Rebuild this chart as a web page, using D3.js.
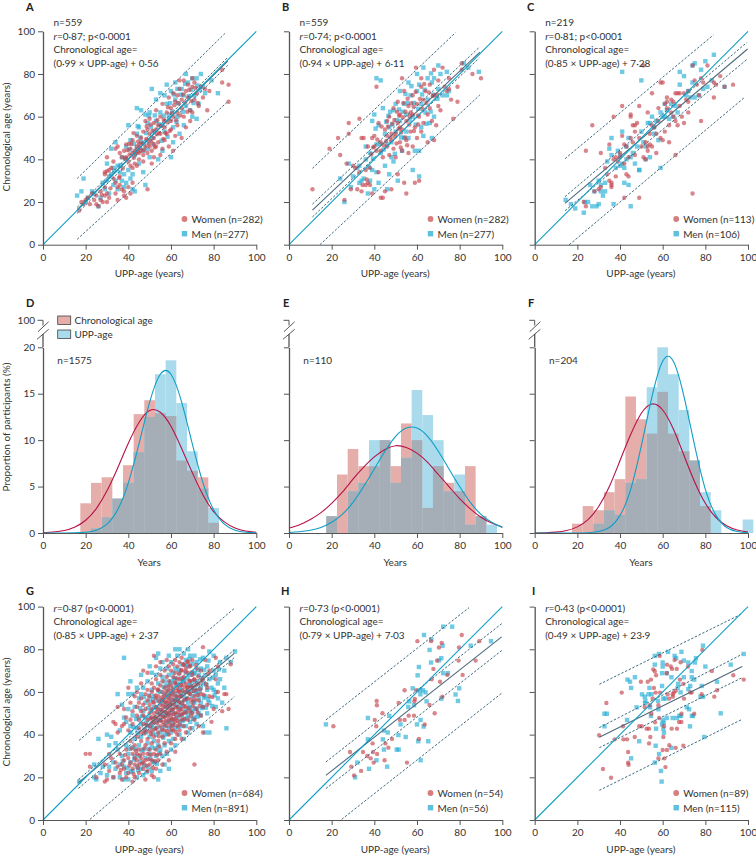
<!DOCTYPE html>
<html>
<head>
<meta charset="utf-8">
<script src="https://cdn.jsdelivr.net/npm/d3@7"></script>
<style>
  body { margin: 0; background: #fff; }
  svg { display: block; }
  text { font-family: Lato, "Open Sans", sans-serif; fill: #333; font-size: 10px; }
  .panelLetter { font-weight: 700; font-size: 11px; fill: #222; }
  .domain, .tick line { stroke: #555; }
</style>
</head>
<body>
<svg id="chart" width="756" height="856"></svg>
<script>
// values: [UPP-age, chronological age]
const aWomen = [[17,16],[18,20],[19,19],[20,21],[21,22],[22,19],[23,24],[24,21],[25,23],[25,19],[26,18],[27,21],[27,25],[28,20],[29,27],[29,23],[30,24],[30,20],[31,22],[29,33],[29,34],[30,34.5],[31,35],[32,36],[30,41],[33,39],[34,29],[34,24],[35,21],[35,27],[33,31],[36,28],[36,32],[37,26],[38,25],[38,23],[39,22],[40,27],[41,24],[42,29],[49,26],[34,45],[35,46],[36,43],[37,41],[38,44],[39,47],[39,41],[40,39],[41,37],[42,36],[43,38],[44,37],[45,40],[41,45],[42,43],[42,49],[43,44],[44,46],[44,51],[45,47],[45,43],[46,44],[46,50],[47,42],[47,53],[47,39],[48,58],[48,46],[49,43],[49,49],[49,54],[50,59],[50,52],[50,46],[51,38],[51,44],[52,57],[52,50],[52,41],[53,46],[53,54],[53,63],[54,48],[54,56],[55,42],[55,52],[55,60],[56,66],[56,45],[57,49],[57,55],[57,58],[58,52],[58,62],[59,69],[59,46],[60,54],[60,58],[60,64],[61,71],[61,44],[61,60],[62,51],[62,67],[63,62],[63,56],[63,70],[64,77],[64,73],[65,64],[65,50],[65,68],[66,77],[66,60],[67,72],[67,55],[68,69],[68,75],[69,58],[69,63],[70,78],[70,74],[70,62],[71,68],[71,76],[72,71],[73,65],[74,74],[75,69],[76,73],[77,63],[78,72],[84,82],[84,76],[87,75],[87,67],[38.5,40.4],[40.6,42.3],[41.4,47.2],[42.6,40.7],[43.4,42.6],[44.4,43.7],[45.6,45.3],[46.4,47.6],[47.4,44.4],[48.4,49.6],[48.6,55.4],[49.6,47.3],[50.4,56.3],[50.6,48.6],[51.3,53.4],[51.6,47.3],[52.4,45.6],[53.4,51.7],[53.6,58.3],[54.4,52.4],[55.4,55.6],[56.4,49.6],[56.6,58.6],[57.4,52.4],[58.4,57.3],[58.6,64.4],[59.4,53.3],[60.4,61.6],[61.6,65.4],[62.4,58.3],[63.6,66.3],[64.4,60.6],[65.6,70.4],[66.6,66.7],[67.6,62.3],[68.6,72.6],[69.6,67.3],[71.4,73.4],[72.6,66.4],[44.6,48.4],[42.4,52.3],[40.4,47.3],[39.6,44.3],[37.4,35.7],[35.7,31.3],[31.6,26.4],[27.6,23.4]];
const aMen = [[16,23],[18,25],[19,31],[20,20],[21,22],[23,25],[24,24],[26,18],[27,22],[28,29],[29,26],[30,38],[30,30],[31,32],[31,24],[32,45],[32,33],[33,28],[33,36],[34,48],[34,30],[35,37],[35,26],[36,34],[37,30],[37,41],[38,33],[38,27],[39,46],[39,29],[40,56],[40,35],[41,49],[41,31],[42,26],[42,33],[43,25],[43,42],[44,64],[44,52],[45,55],[46,48],[46,63],[47,44],[47,34],[48,28],[48,61],[49,57],[50,62],[50,41],[51,73],[51,50],[52,47],[53,68],[53,58],[54,40],[55,71],[55,62],[56,44],[57,70],[57,53],[58,75],[58,66],[59,61],[60,41],[60,72],[61,55],[61,48],[62,76],[62,68],[63,60],[64,52],[65,73],[66,56],[66,70],[67,80],[67,65],[68,76],[69,63],[70,78],[70,60],[71,70],[72,59],[72,78],[73,66],[74,80],[75,74],[76,71],[82,71],[79,77],[63,73],[59,59],[56,56],[52,53],[49,45],[45,38],[44,45],[33.4,34.6],[36.4,37.3],[38.6,40.4],[40.4,44.6],[42.6,47.3],[44.4,55.6],[45.6,50.3],[47.4,47.6],[48.4,52.3],[49.6,60.4],[50.6,55.3],[52.4,60.6],[54.4,56.4],[55.6,48.7],[56.6,60.4],[58.4,50.6],[59.6,66.3],[60.6,62.4],[61.4,70.4],[62.6,57.6],[63.4,66.3],[64.6,70.3],[65.6,62.3],[66.6,75.4],[68.4,69.6],[69.4,72.6],[70.6,66.4],[72.4,74.6],[73.6,72.4]];

const bWomen = [[11,26],[19,45],[23,50],[24,42],[28,57],[28,52],[26,21],[27,38],[29,26],[30,37],[31,36],[32,26],[33,34],[33,59],[34,50],[34,25],[34.5,28],[35,50],[36,35],[36,28],[37,29],[37,46],[38,36],[38,28],[39,24],[39,50],[40,46],[41,44],[41,74],[42,34],[42,57],[43,22],[43,48],[44,41],[44,22],[45,25],[45,54],[46,51],[46,46],[47,60],[47,42],[48,26],[48,49],[49,64],[49,45],[50,52],[50,41],[51,67],[51,33],[51,57],[52,48],[52,61],[53,78],[53,54],[53,44],[54,29],[54,72],[55,58],[55,49],[55,24],[56,65],[56,43],[57,62],[57,53],[58,70],[58,46],[59,55],[59,29],[59.5,83],[60,66],[60,50],[61,60],[61,30],[62,78],[62,74],[62,53],[63,68],[63,57],[64,72],[65,61],[65,48],[66,75],[66,64],[67,58],[68,82],[68,70],[68,49],[69,56],[70,77],[70,65],[71,63],[72,83],[73,74],[74,72],[75,78],[76,68],[79,74],[79,67],[77,59],[81,85],[81,82],[86,80],[90,78],[75,73],[58,61],[52,55],[48,52],[46,58],[43,44],[40,51],[44.4,46.6],[45.6,48.6],[46.4,55.4],[47.6,50.3],[48.4,56.7],[49.4,58.4],[49.6,50.6],[50.4,47.4],[50.6,62.3],[51.4,54.3],[51.6,60.4],[52.4,45.6],[52.6,52.6],[53.4,59.7],[53.6,66.4],[54.4,50.3],[54.6,62.3],[55.4,46.6],[55.6,68.4],[56.4,56.3],[56.6,60.3],[57.4,66.3],[58.4,64.6],[58.6,53.3],[59.4,71.6],[60.4,60.6],[60.6,56.3],[61.4,68.3],[62.6,63.6],[63.4,75.3],[64.4,66.4],[65.6,71.3],[67.4,69.6],[69.4,70.3],[43.4,55.4],[41.4,49.3],[39.4,45.6],[38.6,42.4],[36.4,30.6]];
const bMen = [[24,31],[26,20],[28,38],[29,27],[30,32],[32,36],[33,29],[33,37],[34,30],[35,31],[36,40],[36,46],[37,24],[38,30],[38,43],[39,58],[39,35],[40,26],[40,61],[41,34],[41,47],[41,78],[43,77],[42,56],[42,29],[43,43],[44,64],[45,52],[45,37],[46,26],[46,47],[47,33],[47,55],[48,41],[49,39],[49,63],[50,66],[50,53],[51,30],[52,58],[52,72],[53,44],[54,66],[55,61],[55,53],[56,76],[56,50],[57,70],[58,60],[58,35],[59,44],[60,80],[60,72],[61,44],[61,32],[62,66],[62,55],[63,83],[63,51],[64,62],[65,78],[65,68],[66,57],[67,76],[67,50],[68,78],[68,60],[70,73],[70,84],[71,80],[72,70],[74,81],[74,70],[75,72],[82,85],[84,83],[89,81],[61,75],[54,50],[48,48],[37.4,36.4],[39.4,40.3],[40.6,54.4],[42.6,47.3],[44.4,44.6],[45.6,57.6],[46.6,60.4],[47.4,62.3],[48.4,56.3],[49.6,42.6],[50.4,58.3],[51.6,63.4],[52.6,50.3],[53.4,62.3],[54.6,70.6],[55.6,66.3],[56.6,58.6],[57.4,74.3],[58.6,66.4],[59.4,56.3],[60.6,63.7],[62.4,70.4],[63.6,72.6],[64.4,56.7],[66.4,62.4],[66.6,80.3],[67.6,70.3],[69.6,68.4]];

const cWomen = [[23,20],[24,18],[24,44],[27,56],[28,25],[30,26],[31,27],[31,43],[33,36],[34,33],[35,30],[36,29],[36,28],[36,27],[37,40],[38,32],[38,41],[37,60],[35,47],[39,39],[40,43],[41,65],[41,51],[42,22],[42,38],[42,47],[43,33],[43,46],[44,41],[44,32],[45,60],[45,61],[45,50],[46,48],[46,56],[47,42],[47,56],[48,57],[49,22],[49,65],[49,50],[50,46],[51,41],[51,84],[52,40],[52,48],[53,46],[53,44],[53,62],[54,52],[55,46],[55,56],[55,71],[56,55],[57,43],[57,52],[58,64],[59,50],[59,76],[60,49],[60,76],[61,53],[61,66],[62,69],[62,64],[63,56],[63,48],[64,68],[64,62],[65,67],[65,60],[66,71],[66,42],[67,71],[67,56],[68,65],[68,71],[69,60],[70,71],[71,68],[72,67],[72,62],[74,84],[74,24],[75,77],[76,75],[77,70],[78,78],[78,58],[79,76],[81,84],[84,76],[85,75],[87,79],[89,74],[93,75],[84,69],[72,72],[70,57],[66,58],[62,67],[58,58],[54,47],[47,53],[40,41]];
const cMen = [[14.5,21],[17,19],[19,17],[23,15],[23.5,20],[25,20],[27,18],[29,18],[30,19],[26,28],[28,25],[30,30],[31,28],[31,25],[32,23],[33,25],[33,29],[34,39],[35,45],[36,50],[36,42],[37,19],[38,36],[39,44],[40,37],[40,42],[41,38],[41,53],[41,81],[42,29],[42,36],[43,40],[43,46],[44,28],[44,50],[45,18],[45,41],[46,43],[47,38],[48,46],[49,35],[49,35],[50,53],[50,77],[51,48],[52,46],[52,40],[53,57],[54,41],[54,57],[55,60],[56,55],[56,52],[57,58],[58,49],[59,36],[59,62],[60,60],[61,66],[61,60],[62,63],[63,59],[64,66],[65,60],[66,65],[67,62],[68,81],[68,75],[70,79],[71,70],[72,72],[73,69],[74,76],[74,84],[75,85],[77,70],[78,82],[79,73],[80,86],[81,74],[83,77],[84,89],[89,74],[75,69]];

const gWomen = [[20,31],[22,31],[22,25],[25,20],[29,18],[29,26],[30,19],[31,23],[31,31],[32,29],[33,20],[33,46],[34,45],[34,27],[35,25],[35,53],[35,41],[36,22],[36,31],[37,26],[37,44],[37,19],[38,28],[38,24],[38,45],[38,52],[39,20],[39,33],[39,48],[40,62],[40,22],[40,29],[40,42],[41,27],[41,37],[41,47],[41,55],[42,18],[42,24],[42,31],[42,45],[42,51],[43,20],[43,29],[43,26],[43,35],[43,58],[44,28],[44,31],[44,39],[44,49],[44,53],[44,60],[45,22],[45,26],[45,33],[45,43],[45,47],[45,55],[46,29],[46,37],[46,41],[46,51],[46,57],[46,64],[47,27],[47,24],[47,31],[47,45],[47,49],[47,54],[47,70],[48,19],[48,28],[48,35],[48,42],[48,52],[48,59],[49,23],[49,31],[49,38],[49,47],[49,56],[49,61],[49,69],[50,26],[50,33],[50,44],[50,50],[50,54],[50,58],[51,21],[51,28],[51,36],[51,42],[51,48],[51,52],[51,60],[51,64],[52,20],[52,31],[52,39],[52,46],[52,50],[52,55],[52,62],[52,77],[53,24],[53,33],[53,43],[53,48],[53,53],[53,57],[53,66],[53,72],[54,28],[54,37],[54,41],[54,47],[54,52],[54,58],[54,61],[55,31],[55,44],[55,49],[55,54],[55,63],[55,68],[55,74],[56,26],[56,39],[56,46],[56,51],[56,56],[56,60],[56,65],[57,36],[57,42],[57,48],[57,53],[57,57],[57,62],[57,70],[58,32],[58,44],[58,50],[58,55],[58,59],[58,67],[58,75],[59,28],[59,40],[59,47],[59,52],[59,56],[59,61],[59,65],[59,72],[60,36],[60,44],[60,49],[60,54],[60,58],[60,63],[60,70],[61,42],[61,47],[61,52],[61,60],[61,67],[61,73],[62,32],[62,38],[62,46],[62,50],[62,56],[62,64],[62,69],[62,75],[63,40],[63,44],[63,53],[63,58],[63,62],[63,72],[64,42],[64,49],[64,55],[64,60],[64,66],[64,74],[65,38],[65,47],[65,52],[65,58],[65,63],[65,70],[65,76],[66,44],[66,50],[66,56],[66,67],[66,73],[67,41],[67,53],[67,60],[67,64],[67,71],[68,47],[68,57],[68,62],[68,69],[68,74],[69,43],[69,51],[69,59],[69,65],[69,72],[70,50],[70,55],[70,62],[70,68],[70,75],[71,26],[71,47],[71,58],[71,66],[72,52],[72,61],[72,71],[73,44],[73,56],[73,64],[74,49],[74,59],[74,70],[75,81],[75,41],[75,53],[75,66],[76,75],[77,54],[77,62],[78,58],[78,70],[79,46],[80,52],[81,66],[81,76],[82,72],[84,51],[85,59],[86,59],[87,52],[88,73],[82,60],[36.5,23.5],[38.5,30.5],[40.5,25.5],[41.5,33.5],[42.5,21.5],[43.5,32.5],[44.5,24.5],[45.5,30.5],[46.5,26.5],[47.5,33.5],[48.5,25.5],[49.5,28.5],[50.5,30.5],[51.5,24.5],[52.5,27.5],[53.5,30.5],[54.5,34.5],[47.5,40.5],[48.5,44.5],[49.5,41.5],[50.5,47.5],[50.7,40.3],[51.3,45.6],[51.6,55.3],[52.4,48.2],[52.7,42.6],[52.8,58.4],[53.3,50.7],[53.6,45.4],[53.7,61.2],[54.3,39.2],[54.4,55.7],[54.8,49.6],[55.2,46.7],[55.4,51.8],[55.6,57.4],[55.8,42.3],[56.2,53.6],[56.3,48.4],[56.7,44.6],[56.8,58.3],[57.2,50.8],[57.3,55.4],[57.6,46.3],[57.8,60.4],[58.2,41.6],[58.3,48.7],[58.4,53.2],[58.7,57.3],[58.8,62.7],[59.2,45.4],[59.3,50.3],[59.6,54.4],[59.8,59.2],[60.2,42.3],[60.3,47.4],[60.4,51.6],[60.7,56.2],[60.8,61.3],[61.2,44.6],[61.3,49.7],[61.4,54.3],[61.7,58.2],[61.8,64.5],[62.2,41.3],[62.3,47.8],[62.4,52.7],[62.7,60.6],[62.8,66.3],[63.2,46.4],[63.3,50.6],[63.6,55.7],[63.7,60.3],[63.8,68.4],[64.2,44.7],[64.3,51.5],[64.4,57.8],[64.7,63.4],[64.8,70.3],[65.2,49.6],[65.3,54.6],[65.6,60.7],[65.7,66.4],[65.8,72.6],[66.2,47.3],[66.3,53.4],[66.6,62.4],[66.7,69.6],[67.2,50.5],[67.3,56.7],[67.6,62.3],[67.7,74.3],[68.2,52.4],[68.4,59.6],[68.7,65.3],[68.8,72.4],[69.3,48.6],[69.5,56.4],[69.7,62.7],[69.8,69.3],[70.4,53.3],[70.6,60.4],[70.8,65.7],[71.3,56.3],[71.6,63.3],[71.8,72.6],[72.5,50.4],[72.7,58.6],[72.8,67.3],[73.4,53.5],[73.7,61.3],[74.4,65.4],[75.3,58.7],[76.5,63.6],[77.5,68.5],[79.4,57.6]];
const gMen = [[17,18],[24,26],[24,20],[25,19],[26,38],[27,22],[28,25],[30,40],[30,21],[31,25],[31,35],[32,39],[33,20],[33,27],[34,36],[34,24],[35,59],[35,33],[36,20],[36,26],[36,42],[37,30],[37,54],[38,76],[38,19],[38,25],[38,48],[39,35],[39,22],[39,46],[40,59],[40,31],[40,19],[40,52],[41,27],[41,41],[41,44],[41,65],[42,23],[42,34],[42,49],[42,59],[43,30],[43,38],[43,53],[44,20],[44,25],[44,43],[44,62],[45,35],[45,48],[45,57],[45,30],[46,24],[46,39],[46,45],[46,59],[46,68],[47,21],[47,33],[47,51],[47,62],[48,29],[48,41],[48,48],[48,55],[49,25],[49,36],[49,44],[49,65],[50,31],[50,39],[50,48],[50,56],[50,72],[51,23],[51,34],[51,45],[51,61],[51,69],[52,27],[52,37],[52,43],[52,53],[52,58],[53,30],[53,40],[53,46],[53,68],[53,76],[54,19],[54,35],[54,50],[54,56],[54,64],[54,78],[55,23],[55,33],[55,41],[55,47],[55,60],[55,71],[56,30],[56,43],[56,55],[56,67],[56,74],[57,26],[57,35],[57,40],[57,50],[57,59],[57,65],[58,31],[58,46],[58,53],[58,63],[58,71],[59,24],[59,37],[59,43],[59,50],[59,58],[59,68],[59,77],[60,33],[60,41],[60,47],[60,56],[60,65],[60,74],[61,38],[61,45],[61,50],[61,62],[61,69],[62,35],[62,43],[62,54],[62,59],[62,66],[62,71],[62,80],[63,48],[63,56],[63,64],[63,77],[64,40],[64,46],[64,53],[64,62],[64,69],[64,80],[65,44],[65,49],[65,55],[65,61],[65,73],[66,38],[66,47],[66,59],[66,65],[66,78],[67,44],[67,51],[67,57],[67,69],[67,75],[68,41],[68,49],[68,55],[68,60],[68,72],[68,80],[69,46],[69,53],[69,63],[69,68],[69,77],[70,43],[70,51],[70,58],[70,65],[70,73],[71,48],[71,55],[71,62],[71,69],[71,77],[72,45],[72,52],[72,59],[72,65],[72,74],[73,50],[73,57],[73,68],[74,49],[74,55],[74,62],[74,71],[75,44],[75,53],[75,64],[75,76],[76,41],[76,58],[76,68],[77,50],[77,61],[77,72],[78,41],[78,55],[78,66],[78,79],[79,62],[80,70],[80,77],[81,53],[81,60],[81,68],[82,57],[82,64],[83,74],[83,66],[84,55],[85,70],[86,43],[86,76],[88,74],[90,79],[85,62],[80,61],[37.4,27.6],[39.6,24.3],[40.6,33.4],[41.3,22.6],[42.7,28.3],[43.4,33.2],[44.6,23.4],[45.7,27.3],[46.3,32.6],[47.4,25.7],[48.6,22.4],[49.4,33.3],[50.3,28.7],[51.7,27.4],[52.6,33.6],[53.4,26.3],[54.6,31.4],[42.4,43.6],[43.6,47.3],[44.4,40.6],[45.6,52.4],[46.6,48.7],[47.6,42.4],[47.3,57.6],[48.3,45.6],[49.3,52.4],[49.7,58.3],[50.4,43.7],[50.6,51.3],[51.4,40.7],[51.7,56.6],[52.3,47.4],[53.2,52.6],[53.7,43.4],[54.2,60.4],[54.7,46.6],[55.3,51.4],[55.7,56.3],[56.4,38.6],[56.6,48.6],[56.7,62.4],[57.3,44.3],[57.7,54.6],[58.4,40.4],[58.6,49.3],[58.7,60.6],[59.4,46.3],[59.6,53.7],[59.7,64.3],[60.4,44.2],[60.6,51.7],[60.7,59.4],[61.4,47.3],[61.6,56.3],[61.7,66.6],[62.4,49.6],[62.6,57.4],[62.7,63.3],[63.4,43.7],[63.6,52.3],[63.7,70.4],[64.4,49.3],[64.6,58.6],[64.7,66.3],[65.4,46.4],[65.6,53.3],[65.7,64.6],[66.4,50.6],[66.6,56.4],[66.7,72.7],[67.4,47.6],[67.6,60.3],[67.7,66.3],[68.4,52.6],[68.6,63.3],[68.7,75.4],[69.4,50.3],[69.6,60.6],[70.4,47.4],[70.6,55.6],[70.7,68.6],[71.4,52.3],[71.6,60.3],[72.4,48.4],[72.6,63.6],[72.7,70.3],[73.4,60.4],[73.6,75.3],[74.4,52.4],[74.6,66.6],[75.4,57.3],[75.6,70.4],[76.4,52.6],[76.6,63.4],[77.4,56.4],[77.6,74.7],[79.3,53.4],[79.6,66.7],[80.4,58.4],[82.4,70.6]];

const hWomen = [[20.8,43.9],[60.2,83.8],[71.6,83],[70.3,80.8],[81,86.7],[89.2,83.8],[79.7,80.8],[66.6,83.8],[69.4,74.7],[79.5,74.7],[87.5,74.7],[67.7,70.8],[74.2,68],[81.4,68],[66.9,65.9],[70.8,64.8],[54.2,60.8],[59.7,60.8],[41.1,55.8],[41.2,53.8],[51.4,54.8],[59,56.7],[58.8,55.6],[65.9,53.9],[71.9,57.8],[68.3,50],[43.8,50],[40.2,46.9],[40.9,43.9],[52,46.9],[54.2,46.9],[56.1,48.9],[58.6,48.9],[63.6,44.8],[48.3,38],[60.9,38],[39.2,35.9],[45.2,35.9],[46.6,33.9],[28.6,31.9],[34.7,31.9],[39.4,31.9],[41.3,30.9],[36.7,30],[38.3,28.9],[39.7,26.9],[44.8,28],[55.3,26.9],[29.2,25],[33.8,23],[30.5,20.9]];
const hMen = [[17.3,44.8],[37,47.8],[47,48.8],[44.5,41.9],[46.3,41],[37,37.8],[44,37.8],[44.5,33],[50.5,33],[51.4,33],[51.3,39.8],[54.7,38.9],[52.3,44.8],[41,28],[32,26.9],[37.5,24],[46,25],[31,20],[61.7,28],[60.6,36.9],[65.3,36.9],[63.1,43.8],[60,44.8],[61.7,46.9],[56.4,55.6],[55.9,53],[58.6,53.8],[58,61.7],[61.4,60.8],[62.8,60.8],[64,59.8],[61.6,58.9],[64.5,55.6],[71.4,56.9],[79.2,55.8],[78.1,58.8],[79.8,61.7],[60.3,67.8],[60.9,71.7],[66.6,73.8],[70.3,74.8],[71.4,75.8],[72.3,68.8],[74.5,68.8],[65.9,79.7],[72,81.7],[85.2,81.7],[94.7,83.8],[63.3,86.7],[66.7,84.7],[72.3,90.6],[76.5,90.6]];

const iWomen = [[30.2,39.7],[32,23.9],[35.8,19.8],[33.6,54.8],[37.5,37.8],[40.8,59.7],[41.4,43.9],[41.6,37.8],[43.3,37.8],[43.8,31.9],[43.8,26.9],[44,25.9],[46.9,38.9],[49,43.9],[50.2,43.9],[49.8,64.8],[51.6,52.8],[52.5,42.8],[53,64.8],[53.9,53.8],[53.6,42.8],[54.2,38.9],[53.6,35.9],[54.5,65.8],[55.6,70.6],[56.3,69.7],[56.9,67.8],[55.9,61.9],[55.3,56.9],[54.7,49.8],[56.4,45.8],[56.7,59.7],[58,53.8],[58.3,47.8],[58,28.9],[58.8,59.7],[58.6,76.9],[60,32.8],[60.3,38.9],[60.6,43.9],[60.8,28.9],[61.3,24.8],[62,32.8],[62,72.8],[62.3,58.9],[61.9,68.8],[63.1,35],[63.1,56.9],[63.8,71.9],[64.4,70.8],[64.2,42.8],[64.7,58.9],[64.8,57.8],[65.2,59.7],[65.6,75],[66.1,33.8],[66.6,70.8],[66.7,42.8],[66.1,60.5],[67.7,45.9],[68.1,65.8],[68.4,73.9],[68.8,49.8],[68.8,45.9],[69.7,34.8],[69.7,63.8],[70,56.9],[71.9,71.9],[72.9,59.8],[74.8,49.8],[73.6,59.7],[78.3,58.9],[78.6,79.7],[83.1,69.8],[84.2,57.8],[85.5,60.8],[93.1,67.8],[98,65.8]];
const iMen = [[32.7,49.8],[33.8,49.8],[32.7,43.9],[43.3,46.9],[43.5,65.8],[44.7,64.8],[45.2,61.9],[47,66.9],[47.8,52.8],[49,36.9],[45.2,28.9],[50.3,58.9],[51.6,57.8],[51.9,55.9],[51.7,54.8],[53.4,58.9],[54.1,52.8],[54.5,48.8],[54.8,58.9],[53.8,61.9],[56.9,42.8],[56.7,34.8],[56.3,26.9],[58.3,30.9],[56.3,72.8],[56.3,76.9],[58.3,77.8],[60,73.8],[60,71.9],[59.7,68.8],[59.7,62.8],[57.8,55.8],[58,51.9],[60.3,56.9],[61.3,56.9],[60,46.9],[60.5,45.6],[59.7,44.8],[60.3,42.8],[60.6,40.9],[59.2,23],[59.5,18],[61.9,47.8],[61.9,68.8],[62.5,78.8],[64.1,33.8],[64.1,66.9],[65.6,76.9],[66.3,75.8],[64.7,47.8],[66.6,47.8],[67,61.9],[67.3,63.8],[67.8,48.8],[68.8,78.8],[68.6,48.8],[68.4,59.8],[69.9,74.7],[69.9,66.9],[71.3,52.8],[72.4,51.9],[72,73.8],[72,61.3],[72.9,62.8],[72.8,43.9],[73.7,48.8],[73.6,69.8],[73.6,66.9],[74.8,65.8],[75.1,73.8],[75.6,75.8],[74.2,48.8],[77.7,57.8],[79,57.8],[78.3,62.8],[79.5,38.9],[80,71.9],[78.9,81.7],[85.5,64.8],[87.2,50],[91.9,72.8],[98,77.8]];

// fit line, inner and outer dashed limits as [x1, y1, x2, y2] in axis units
const aFit = [16,16.4,86.6,86], aInner = [[16,17.5,86.6,87.8],[16,14.7,86.6,84]], aOuter = [[16,31,85.3,99],[16,2.5,86.6,67]];
const bFit = [11,16.2,89.5,90.2], bInner = [[11,19,89.2,92.5],[11,13,89.2,87.5]], bOuter = [[11,35.8,78.1,99.4],[14.5,0,89.5,70.2]];
const cFit = [14.2,19.4,99.8,91.7], cInner = [[14.2,22.5,99.4,94.7],[14.2,15.9,99.7,87]], cOuter = [[14.2,40.3,83.8,98.3],[16.2,0,98.6,69.2]];
const gFit = [16.6,17.5,89.7,78.1], gInner = [[16.6,19,89.7,79.7],[16.6,14.8,89.7,76.1]], gOuter = [[16.9,37.3,89.5,99],[22,0.3,89.7,57.7]];
const hFit = [17.3,20.9,99.7,85.8], hInner = [[17.3,27.2,99.7,92],[17.3,14.7,99.7,79.4]], hOuter = [[17.3,46.9,84.4,99.5],[24.7,0.3,99.7,59.4]];
const iFit = [30.3,38.8,97.3,71.9], iInner = [[30.3,43.3,97.3,77.7],[30.3,33.9,97.3,66.7]], iOuter = [[30.3,63.6,97.3,96.7],[30.3,13.9,97.3,47.2]];

// histograms: 5-year bins, centre value of each bin
const binCentres = [20,25,30,35,40,45,50,55,60,65,70,75,80,85,90,95,100];
const dChrono = [3.2,5.4,6,3.7,7.3,12.8,14.3,12.9,12.6,7.8,6.7,6,1.1,0,0,0,0];
const dUpp = [0.1,0.5,1.7,3.7,5.4,8.7,12.5,17.1,18.6,14,8.8,4.8,2.7,0,0,0,0];
const eChrono = [1.8,6.3,9.05,7.2,7.2,10,7.2,11.8,10,2.7,7.2,5.4,4.5,7.2,1.8,0,0];
const eUpp = [1.8,0,4.5,5.4,10,10,5.4,8.1,15.4,12.7,10,4.5,6.3,0.9,1.8,0.9,0];
const fChrono = [1,2.9,2.45,4.4,5.8,14.7,12.25,10.7,15.2,10.7,8.8,7.8,2.9,0,0,0,0];
const fUpp = [0,0,1,2.45,1.95,5.4,5.8,15.7,20,17.1,13.25,7.8,4.4,2.45,0,0,1.45];

// fitted curves read at every 5 years, from 0 to 100
const curveYears = [0,5,10,15,20,25,30,35,40,45,50,55,60,65,70,75,80,85,90,95,100];
const dChronoCurve = [0.03,0.1,0.26,0.64,1.37,2.63,4.54,7,9.66,11.9,13.2,13,11.5,9.1,6.5,4.1,2.3,1.2,0.54,0.22,0.08];
const dUppCurve = [0,0,0,0.02,0.08,0.3,0.96,2.5,5.4,9.6,14.1,17.1,17.1,14.1,9.6,5.4,2.5,0.96,0.3,0.08,0.02];
const eChronoCurve = [0.53,0.89,1.46,2.2,3.2,4.4,5.8,7.1,8.2,9,9.4,9.2,8.6,7.6,6.3,5,3.7,2.6,1.7,1.08,0.65];
const eUppCurve = [0.05,0.13,0.29,0.6,1.15,2,3.3,5,6.9,8.8,10.4,11.3,11.3,10.4,8.8,6.9,5,3.3,2,1.15,0.6];
const fChronoCurve = [0,0.03,0.09,0.26,0.66,1.44,2.85,5,7.8,10.6,12.9,13.9,13.25,11.2,8.35,5.5,3.2,1.67,0.78,0.32,0.11];
const fUppCurve = [0,0,0,0,0,0.02,0.16,0.6,1.9,4.7,9.4,14.7,18.5,18.5,14.7,9.4,4.7,1.9,0.6,0.16,0.03];

const axisTicks = [0,20,40,60,80,100];
const histTicks = [0,5,10,15,20];

const teal = "#0f9fc4", fitColour = "#4d6b7d", dashColour = "#3f6a80";
const redLine = "#b5124a", blueLine = "#0f9fc4";
const redBar = "#e5aeaa", blueBar = "#a9dbec", greyBar = "#a5adb6";
const womenColour = "#c4434f", menColour = "#23aed6";

const panelWidth = 213.3;
const columns = [43, 289, 534.7];
const svg = d3.select("#chart");

function addText(x, y, str, cls) {
  return svg.append("text").attr("x", x).attr("y", y).attr("class", cls || null).text(str);
}

function drawAxes(xScale, yScale, yTicks, showLabels) {
  const bottom = yScale.range()[0];
  const gx = svg.append("g").attr("transform", `translate(0,${bottom})`)
    .call(d3.axisBottom(xScale).tickValues(axisTicks).tickSize(5).tickSizeOuter(0).tickPadding(4));
  gx.selectAll("text").style("font-size", "10px");
  const gy = svg.append("g").attr("transform", `translate(${xScale.range()[0]},0)`)
    .call(d3.axisLeft(yScale).tickValues(yTicks).tickSize(5).tickSizeOuter(0).tickPadding(3)
      .tickFormat(showLabels ? d3.format("d") : ""));
  gy.selectAll("text").style("font-size", "10px");
  gy.select(".domain").attr("stroke-width", 1.3);
  gx.select(".domain").attr("stroke-width", 1);
}

function drawSegment(xScale, yScale, seg, colour, dash, width) {
  svg.append("line")
    .attr("x1", xScale(seg[0])).attr("y1", yScale(seg[1]))
    .attr("x2", xScale(seg[2])).attr("y2", yScale(seg[3]))
    .attr("stroke", colour).attr("stroke-width", width)
    .attr("stroke-dasharray", dash);
}

function richLine(x, y, parts) {
  const t = svg.append("text").attr("x", x).attr("y", y);
  parts.forEach(p => {
    t.append("tspan").style("font-style", p[1] ? "italic" : "normal").text(p[0]);
  });
}

function scatterPanel(opts) {
  const x = d3.scaleLinear().domain([0, 100]).range([opts.left, opts.left + panelWidth]);
  const y = d3.scaleLinear().domain([0, 100]).range([opts.bottom, opts.bottom - 213.4]);

  const g = svg.append("g");
  g.selectAll("rect").data(opts.men).enter().append("rect")
    .attr("x", d => x(d[0]) - 2.2).attr("y", d => y(d[1]) - 2.2)
    .attr("width", 4.4).attr("height", 4.4)
    .attr("fill", menColour).attr("fill-opacity", 0.65);
  g.selectAll("circle").data(opts.women).enter().append("circle")
    .attr("cx", d => x(d[0])).attr("cy", d => y(d[1])).attr("r", 2.2)
    .attr("fill", womenColour).attr("fill-opacity", 0.65);

  opts.outer.forEach(s => drawSegment(x, y, s, dashColour, "2.4,1.7", 1));
  opts.inner.forEach(s => drawSegment(x, y, s, dashColour, "2.4,1.7", 1));
  drawSegment(x, y, opts.fit, fitColour, null, 1.1);
  drawSegment(x, y, [0, 0, 100, 100], teal, null, 1.1);

  drawAxes(x, y, axisTicks, opts.showY);

  addText(opts.left + panelWidth / 2 - 0.5, opts.bottom + 32.5, "UPP-age (years)").attr("text-anchor", "middle");
  addText(opts.letterX, opts.letterY, opts.letter, "panelLetter");

  opts.lines.forEach((parts, i) => richLine(opts.left + 10.5, opts.textTop + i * opts.lineStep, parts));

  // legend
  const lx = opts.left + 141.5;
  svg.append("circle").attr("cx", lx).attr("cy", opts.legendY).attr("r", 2.9).attr("fill", "#d67d7e");
  svg.append("rect").attr("x", lx - 2.7).attr("y", opts.legendY + 12).attr("width", 5.4).attr("height", 5.4).attr("fill", "#5dc0de");
  addText(lx + 7, opts.legendY + 3.5, opts.legend[0]);
  addText(lx + 7, opts.legendY + 18.5, opts.legend[1]);
}

function histPanel(opts) {
  const x = d3.scaleLinear().domain([0, 100]).range([opts.left, opts.left + panelWidth]);
  const y = d3.scaleLinear().domain([0, 20]).range([533, 347.3]);
  const barW = x(5) - x(0);

  const layers = [
    { values: opts.chrono, fill: redBar },
    { values: opts.upp, fill: blueBar },
    { values: opts.chrono.map((v, i) => Math.min(v, opts.upp[i])), fill: greyBar },
  ];
  layers.forEach(layer => {
    svg.append("g").selectAll("rect").data(layer.values).enter().append("rect")
      .attr("x", (d, i) => x(binCentres[i]) - barW / 2).attr("width", barW)
      .attr("y", d => y(d)).attr("height", d => y(0) - y(d))
      .attr("fill", layer.fill);
  });

  const line = d3.line().x((d, i) => x(curveYears[i])).y(d => y(Math.max(d, 0))).curve(d3.curveNatural);
  svg.append("path").attr("d", line(opts.chronoCurve)).attr("fill", "none").attr("stroke", redLine).attr("stroke-width", 1.1);
  svg.append("path").attr("d", line(opts.uppCurve)).attr("fill", "none").attr("stroke", blueLine).attr("stroke-width", 1.1);

  drawAxes(x, y, histTicks, opts.showY);

  // broken y axis up to the 100 tick
  const l = opts.left;
  svg.append("path").attr("d", `M${l},347 V334`).attr("stroke", "#555").attr("stroke-width", 1.3).attr("fill", "none");
  svg.append("path").attr("d", `M${l - 5.5},320.3 H${l} V325.5`).attr("stroke", "#555").attr("stroke-width", 1).attr("fill", "none");
  svg.append("path").attr("d", `M${l - 6},339.3 L${l + 5.7},329.3 M${l - 5},331.7 L${l + 5.7},321.7`).attr("stroke", "#444").attr("stroke-width", 0.9).attr("fill", "none");
  if (opts.showY) addText(l - 8, 323.8, "100").attr("text-anchor", "end");

  addText(opts.left + panelWidth / 2 - 0.5, 566, "Years").attr("text-anchor", "middle");
  addText(opts.letterX, 307, opts.letter, "panelLetter");
  addText(opts.left + 14.3, 363.8, opts.n);
}

scatterPanel({ left: columns[0], bottom: 244.7, letter: "A", letterX: 26, letterY: 10.5, showY: true,
  women: aWomen, men: aMen, fit: aFit, inner: aInner, outer: aOuter, legendY: 219,
  legend: ["Women (n=282)", "Men (n=277)"], textTop: 26, lineStep: 13.7,
  lines: [[["n=559"]], [["r", 1], ["=0·87; p<0·0001"]], [["Chronological age="]], [["(0·99 × UPP-age) + 0·56"]]] });
scatterPanel({ left: columns[1], bottom: 244.7, letter: "B", letterX: 282, letterY: 10.5, showY: false,
  women: bWomen, men: bMen, fit: bFit, inner: bInner, outer: bOuter, legendY: 219,
  legend: ["Women (n=282)", "Men (n=277)"], textTop: 26, lineStep: 13.7,
  lines: [[["n=559"]], [["r", 1], ["=0·74; p<0·0001"]], [["Chronological age="]], [["(0·94 × UPP-age) + 6·11"]]] });
scatterPanel({ left: columns[2], bottom: 244.7, letter: "C", letterX: 527, letterY: 10.5, showY: false,
  women: cWomen, men: cMen, fit: cFit, inner: cInner, outer: cOuter, legendY: 219,
  legend: ["Women (n=113)", "Men (n=106)"], textTop: 26, lineStep: 13.7,
  lines: [[["n=219"]], [["r", 1], ["=0·81; p<0·0001"]], [["Chronological age="]], [["(0·85 × UPP-age) + 7·28"]]] });

histPanel({ left: columns[0], letter: "D", letterX: 26, showY: true, n: "n=1575",
  chrono: dChrono, upp: dUpp, chronoCurve: dChronoCurve, uppCurve: dUppCurve });
histPanel({ left: columns[1], letter: "E", letterX: 283, showY: false, n: "n=110",
  chrono: eChrono, upp: eUpp, chronoCurve: eChronoCurve, uppCurve: eUppCurve });
histPanel({ left: columns[2], letter: "F", letterX: 528, showY: false, n: "n=204",
  chrono: fChrono, upp: fUpp, chronoCurve: fChronoCurve, uppCurve: fUppCurve });

scatterPanel({ left: columns[0], bottom: 820, letter: "G", letterX: 26, letterY: 594.5, showY: true,
  women: gWomen, men: gMen, fit: gFit, inner: gInner, outer: gOuter, legendY: 793,
  legend: ["Women (n=684)", "Men (n=891)"], textTop: 611.7, lineStep: 13.6,
  lines: [[["r", 1], ["=0·87 (p<0·0001)"]], [["Chronological age="]], [["(0·85 × UPP-age) + 2·37"]]] });
scatterPanel({ left: columns[1], bottom: 820, letter: "H", letterX: 281, letterY: 594.5, showY: false,
  women: hWomen, men: hMen, fit: hFit, inner: hInner, outer: hOuter, legendY: 793,
  legend: ["Women (n=54)", "Men (n=56)"], textTop: 611.7, lineStep: 13.6,
  lines: [[["r", 1], ["=0·73 (p<0·0001)"]], [["Chronological age="]], [["(0·79 × UPP-age) + 7·03"]]] });
scatterPanel({ left: columns[2], bottom: 820, letter: "I", letterX: 532, letterY: 594.5, showY: false,
  women: iWomen, men: iMen, fit: iFit, inner: iInner, outer: iOuter, legendY: 793,
  legend: ["Women (n=89)", "Men (n=115)"], textTop: 611.7, lineStep: 13.6,
  lines: [[["r", 1], ["=0·43 (p<0·0001)"]], [["Chronological age="]], [["(0·49 × UPP-age) + 23·9"]]] });

// y axis titles
[[137, "Chronological age (years)"], [427, "Proportion of participants (%)"], [712, "Chronological age (years)"]].forEach(t => {
  svg.append("text").attr("transform", `translate(10,${t[0]}) rotate(-90)`).attr("text-anchor", "middle").text(t[1]);
});

// histogram legend
const legendItems = [["Chronological age", redBar, 316], ["UPP-age", blueBar, 330]];
svg.selectAll(".swatch").data(legendItems).enter().append("rect").attr("class", "swatch")
  .attr("x", 57.7).attr("y", d => d[2]).attr("width", 13).attr("height", 8.5)
  .attr("fill", d => d[1]).attr("stroke", "#444").attr("stroke-width", 0.8);
legendItems.forEach(d => addText(74.5, d[2] + 8, d[0]));
</script>
</body>
</html>
